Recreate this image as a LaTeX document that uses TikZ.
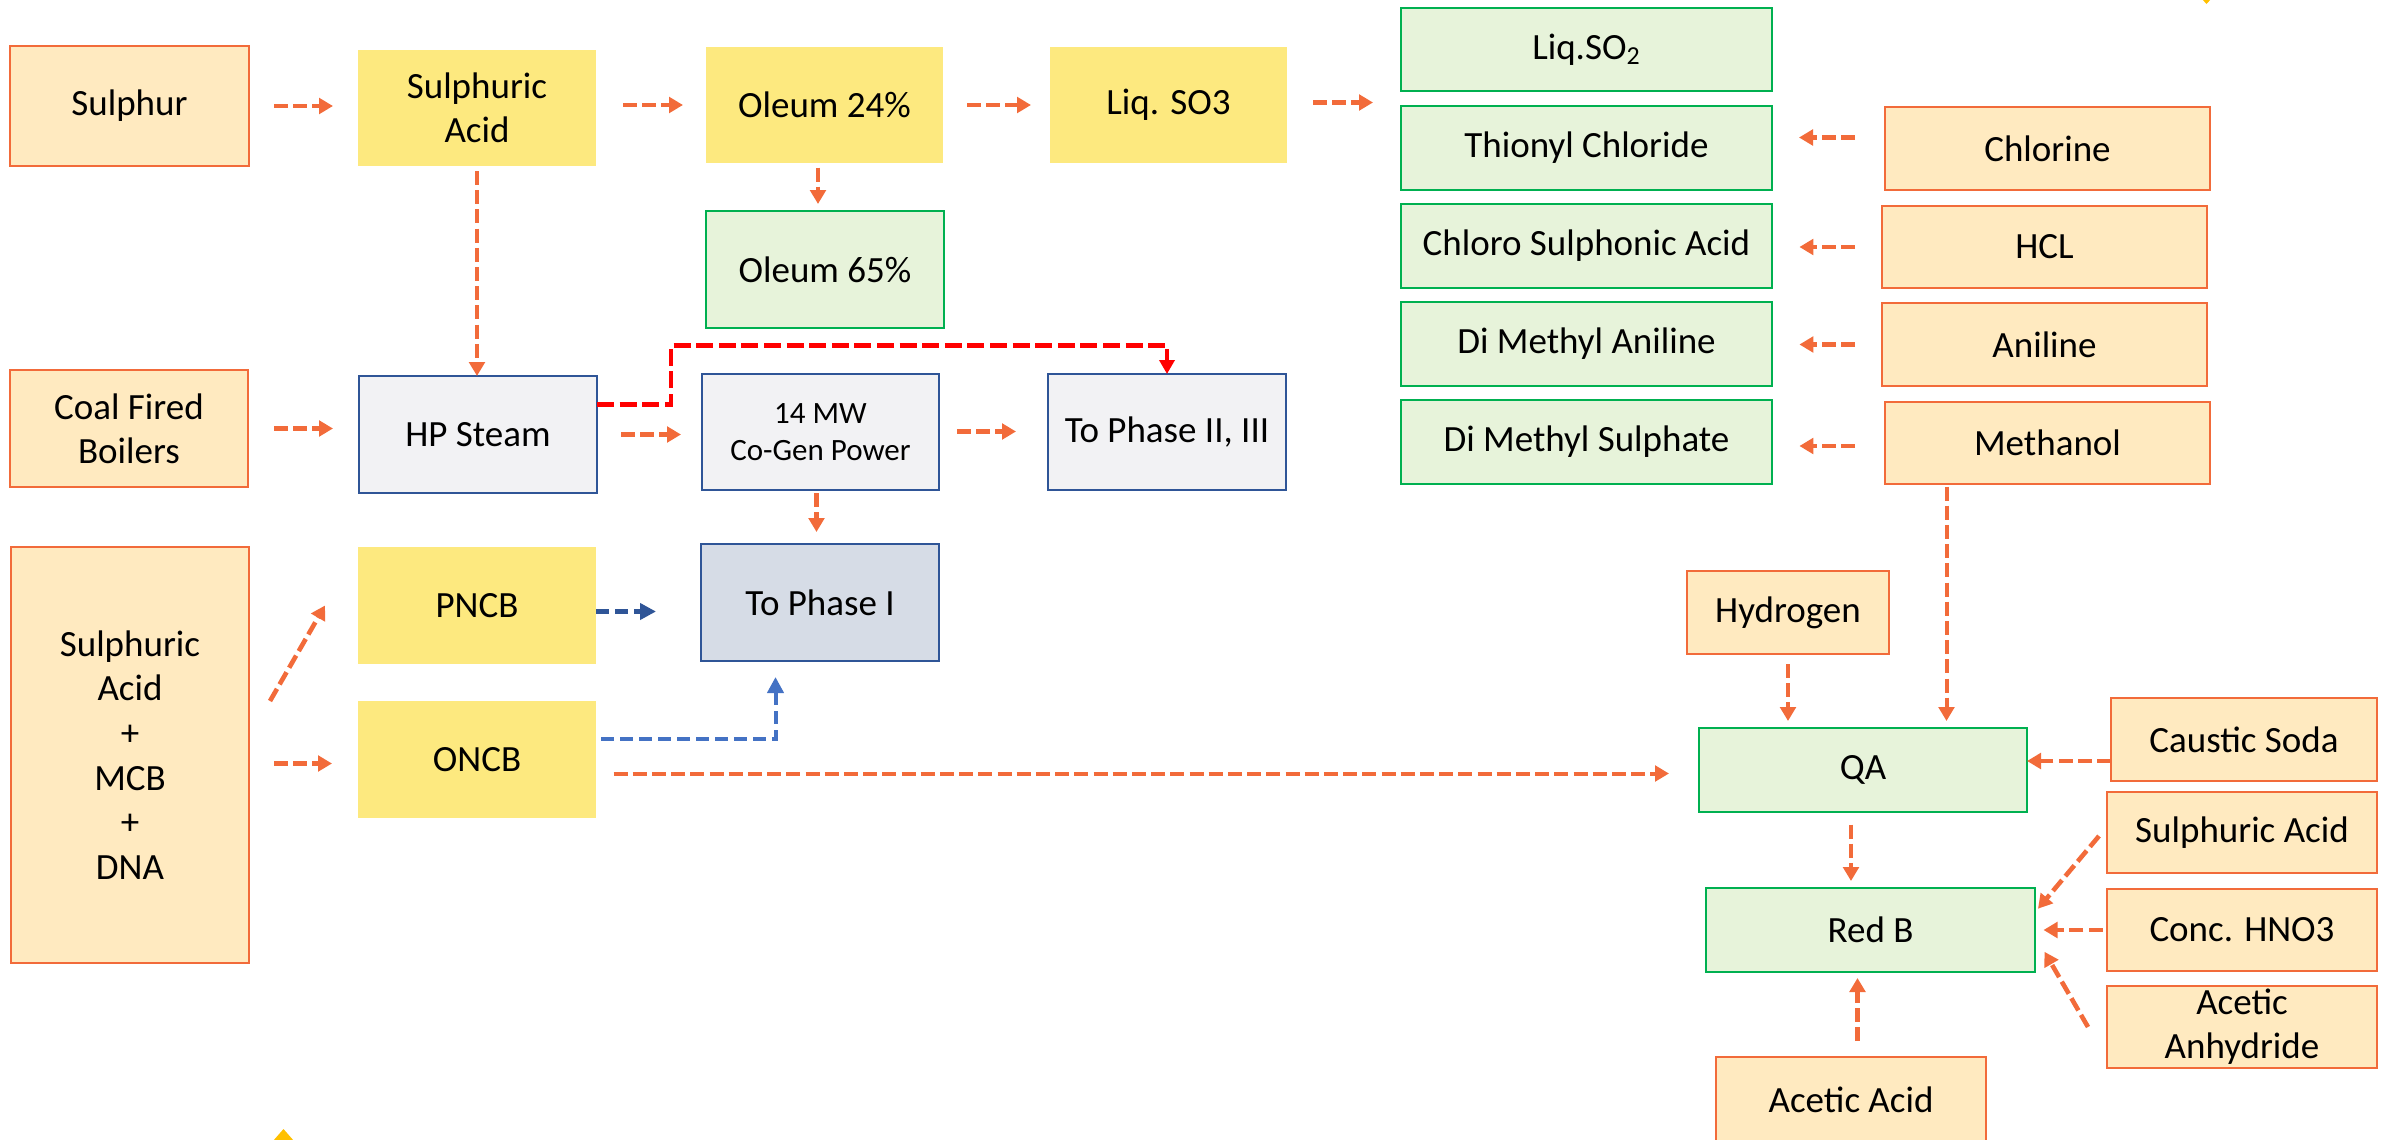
\documentclass[tikz,border=0pt]{standalone}
\usepackage{fontspec}
\setmainfont{Carlito}
\usetikzlibrary{arrows.meta,calc}
\definecolor{orln}{HTML}{F26B3A}
\definecolor{orfill}{HTML}{FFEAC0}
\definecolor{yefill}{HTML}{FDE97F}
\definecolor{grln}{HTML}{00B050}
\definecolor{grfill}{HTML}{E7F3DA}
\definecolor{blln}{HTML}{2F5597}
\definecolor{blln2}{HTML}{4472C4}
\definecolor{gyfill}{HTML}{F2F2F4}
\definecolor{bgfill}{HTML}{D6DCE6}
\definecolor{gold}{HTML}{FFC000}
\newcommand\bx[7]{\node[#6, minimum width={(#4-#2)*0.5pt}, minimum height={(#5-#3)*0.5pt}] (#1) at ({(#2+#4)/2},{(#3+#5)/2}) {#7};}
\begin{document}
\begin{tikzpicture}[x=0.5pt,y=-0.5pt,
  font=\fontsize{18.5}{22}\selectfont,
  base/.style={inner sep=0pt, outer sep=0pt, align=center, line width=1.25pt},
  orbox/.style={base, draw=orln, fill=orfill},
  yebox/.style={base, fill=yefill},
  grbox/.style={base, draw=grln, fill=grfill},
  gybox/.style={base, draw=blln, fill=gyfill},
  bgbox/.style={base, draw=blln, fill=bgfill},
  arr/.style={draw=orln, line width=2.3pt, dash pattern=on 7pt off 2.6pt, -{Triangle[length=7pt,width=7.8pt]}},
  arr2/.style={arr, line width=2pt},
  redarr/.style={draw=red, line width=2.2pt, dash pattern=on 8.5pt off 2.8pt, -{Triangle[length=7pt,width=7.5pt]}},
  barr/.style={draw=blln, line width=2.4pt, dash pattern=on 6.5pt off 3pt, -{Triangle[length=8pt,width=8pt]}},
  barr2/.style={draw=blln2, line width=2pt, dash pattern=on 6.5pt off 3pt, -{Triangle[length=8pt,width=8pt]}}]
\useasboundingbox (0,0) rectangle (2384,1140);

% top row
\bx{sulphur}{10}{46}{249}{166}{orbox}{Sulphur}
\bx{sacid}{358}{50}{596}{166}{yebox}{Sulphuric\\Acid}
\bx{ol24}{706}{47}{943}{163}{yebox}{Oleum 24\%}
\bx{liqso3}{1050}{47}{1287}{163}{yebox}{Liq. SO3}
\bx{ol65}{706}{211}{944}{328}{grbox}{Oleum 65\%}

% green column
\bx{liqso2}{1401}{8}{1772}{91}{grbox}{Liq.SO\textsubscript{2}}
\bx{thionyl}{1401}{106}{1772}{190}{grbox}{Thionyl Chloride}
\bx{chloro}{1401}{204}{1772}{288}{grbox}{Chloro Sulphonic Acid}
\bx{dma}{1401}{302}{1772}{386}{grbox}{Di Methyl Aniline}
\bx{dms}{1401}{400}{1772}{484}{grbox}{Di Methyl Sulphate}

% raw materials right
\bx{chlorine}{1885}{107}{2210}{190}{orbox}{Chlorine}
\bx{hcl}{1882}{206}{2207}{288}{orbox}{HCL}
\bx{aniline}{1882}{303}{2207}{386}{orbox}{Aniline}
\bx{methanol}{1885}{402}{2210}{484}{orbox}{Methanol}

% steam / power
\bx{coal}{10}{370}{248}{487}{orbox}{Coal Fired\\Boilers}
\bx{hp}{359}{376}{597}{493}{gybox}{HP Steam}
\bx{cogen}{702}{374}{939}{490}{gybox,font=\fontsize{15.5}{18.5}\selectfont}{14 MW\\Co-Gen Power}
\bx{ph23}{1048}{374}{1286}{490}{gybox}{To Phase II, III}
\bx{ph1}{701}{544}{939}{661}{bgbox}{To Phase I}

% nitration
\bx{mix}{11}{547}{249}{963}{orbox,font=\fontsize{18.5}{22.3}\selectfont}{Sulphuric\\Acid\\+\\MCB\\+\\DNA}
\bx{pncb}{358}{547}{596}{664}{yebox}{PNCB}
\bx{oncb}{358}{701}{596}{818}{yebox}{ONCB}

% QA / Red B
\bx{hyd}{1687}{571}{1889}{654}{orbox}{Hydrogen}
\bx{qa}{1699}{728}{2027}{812}{grbox}{QA}
\bx{caustic}{2111}{698}{2377}{781}{orbox}{Caustic Soda}
\bx{redb}{1706}{888}{2035}{972}{grbox}{Red B}
\bx{sa2}{2107}{792}{2377}{873}{orbox}{Sulphuric Acid}
\bx{hno3}{2107}{889}{2377}{971}{orbox}{Conc. HNO3}
\bx{anhyd}{2107}{986}{2377}{1068}{orbox}{Acetic\\Anhydride}
\bx{acetic}{1716}{1057}{1986}{1143}{orbox}{Acetic Acid}

% connectors: top row
\draw[arr, shorten <=12.5pt, shorten >=12.5pt] (sulphur.east) -- (sulphur.east -| sacid.west);
\draw[arr, shorten <=13.5pt, shorten >=11.5pt] ($(sacid.east)+(0,-3)$) -- ($(sacid.east -| ol24.west)+(0,-3)$);
\draw[arr, shorten <=12pt, shorten >=9.5pt] (ol24.east) -- (ol24.east -| liqso3.west);
\draw[arr, shorten <=13pt, shorten >=14pt] ($(liqso3.east)+(0,-2.5)$) -- ($(liqso3.east -| liqso2.west)+(0,-2.5)$);
\draw[arr, shorten <=2.25pt, shorten >=3.5pt] ($(ol24.south)+(-6.5,0)$) -- ($(ol24.south |- ol65.north)+(-6.5,0)$);
\draw[arr, shorten <=2.5pt] (sacid.south) -- (sacid.south |- hp.north);

% steam
\draw[arr, shorten <=13pt, shorten >=13pt] (coal.east) -- (coal.east -| hp.west);
\draw[arr, shorten <=12pt, shorten >=10.5pt] (hp.east) -- (hp.east -| cogen.west);
\coordinate (rbend) at (671,345.5);
\draw[redarr] ($(hp.east)+(0,-30)$) -| (rbend) -| (ph23.north);
\draw[arr, shorten <=9pt, shorten >=16pt] ($(cogen.east)+(0,-0.5)$) -- ($(cogen.east -| ph23.west)+(0,-0.5)$);
\draw[arr, shorten <=1.5pt, shorten >=6pt] ($(cogen.south)+(-4,0)$) -- ($(cogen.south |- ph1.north)+(-4,0)$);

% nitration
\draw[arr] ($(mix.east)+(21,-54)$) -- ($(pncb.west)+(-33,0)$);
\draw[arr, shorten <=12.5pt, shorten >=13pt] ($(oncb.west -| mix.east)+(0,4)$) -- ($(oncb.west)+(0,4)$);
\draw[barr, shorten >=22.5pt] ($(pncb.east)+(0,6)$) -- ($(pncb.east -| ph1.west)+(0,6)$);
\draw[barr2, shorten <=2.5pt, shorten >=8pt] ($(oncb.east)+(0,-20.5)$) -| ($(ph1.south)+(-44.5,0)$);
\draw[arr2, shorten <=8.75pt, shorten >=15pt] ($(oncb.east)+(0,14)$) -- ($(oncb.east -| qa.west)+(0,14)$);

% green column feeds
\draw[arr, shorten <=15pt, shorten >=13.5pt] ($(chlorine.west)+(0,-11)$) -- ($(chlorine.west -| thionyl.east)+(0,-11)$);
\draw[arr, shorten <=13.5pt, shorten >=13.7pt] (hcl.west) -- (hcl.west -| chloro.east);
\draw[arr, shorten <=13.5pt, shorten >=13.7pt] (aniline.west) -- (aniline.west -| dma.east);
\draw[arr, shorten <=15pt, shorten >=13.7pt] ($(methanol.west)+(0,3)$) -- ($(methanol.west -| dms.east)+(0,3)$);

% QA feeds
\coordinate (mq) at ($(methanol.south)+(-101,0)$);
\draw[arr2, shorten <=1.25pt, shorten >=3.5pt] (mq) -- (mq |- qa.north);
\draw[arr, shorten <=5pt, shorten >=3.5pt] (hyd.south) -- (hyd.south |- qa.north);
\draw[arr] ($(caustic.west)+(0,21.5)$) -- ($(caustic.west -| qa.east)+(0,21.5)$);
\draw[arr, shorten <=6.25pt, shorten >=3.5pt] ($(qa.south)+(-12,0)$) -- ($(qa.south |- redb.north)+(-12,0)$);

% Red B feeds
\draw[arr] ($(sa2.west)+(-8,3.5)$) -- ($(redb.north east)+(3,20.7)$);
\draw[arr, shorten <=2.25pt, shorten >=4.25pt] (hno3.west) -- (hno3.west -| redb.east);
\draw[arr] ($(anhyd.west)+(-19,0)$) -- ($(redb.east)+(9.5,21.8)$);
\draw[arr, shorten <=8pt, shorten >=3pt] ($(acetic.north)+(6.5,0)$) -- ($(acetic.north |- redb.south)+(6.5,0)$);

% stray marks at the edges
\fill[gold] (273,1141) -- (283.5,1129) -- (294,1141) -- cycle;
\fill[gold] (2202,-1) -- (2211,-1) -- (2206.5,4) -- cycle;
\end{tikzpicture}
\end{document}
